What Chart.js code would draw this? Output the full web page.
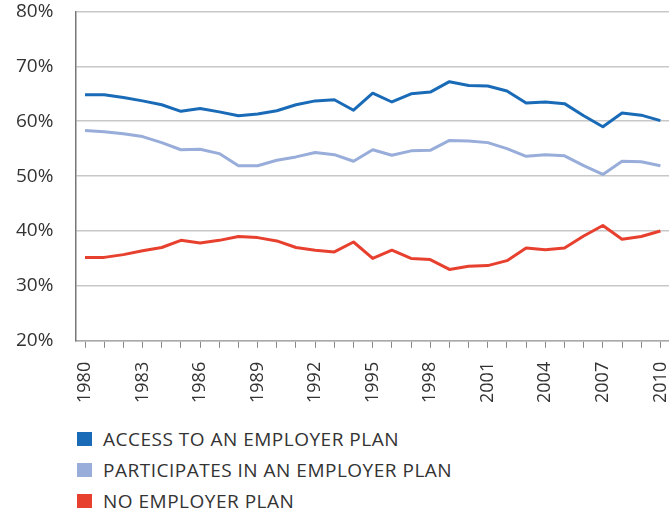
<!DOCTYPE html>
<html>
<head>
<meta charset="utf-8">
<script src="https://cdn.jsdelivr.net/npm/chart.js@4/dist/chart.umd.min.js"></script>
<style>
  html, body { margin: 0; padding: 0; background: #fff; }
  body { width: 669px; height: 513px; position: relative; overflow: hidden; font-family: "Open Sans", sans-serif; }
  /* canvas is a bit larger than the page so the plot reaches the top and right edges */
  #wrap { position: absolute; left: 0; top: -22px; width: 696px; height: 439px; }
  #legend { position: absolute; left: 77px; top: 423px; list-style: none; margin: 0; padding: 0; }
  #legend li { height: 31px; font-size: 19px; letter-spacing: 0.5px; color: #333; display: flex; align-items: center; white-space: nowrap; }
  #legend span.box { display: inline-block; width: 15px; height: 14px; margin-right: 11px; }
</style>
</head>
<body>
<div id="wrap"><canvas id="chart"></canvas></div>
<ul id="legend"></ul>
<script>
const years = [];
for (let y = 1980; y <= 2010; y++) years.push(String(y));

// share of workers, percent
const accessPlan = [64.8, 64.8, 64.3, 63.7, 63.0, 61.8, 62.3, 61.7, 61.0, 61.3, 61.9, 63.0, 63.7, 63.9,
  62.0, 65.1, 63.5, 65.0, 65.3, 67.2, 66.5, 66.4, 65.5, 63.3, 63.5, 63.2, 61.0, 59.0, 61.5, 61.1, 60.1];
const participates = [58.3, 58.1, 57.7, 57.2, 56.1, 54.8, 54.9, 54.1, 51.9, 51.9, 52.9, 53.5, 54.3, 53.9,
  52.7, 54.8, 53.8, 54.6, 54.7, 56.5, 56.4, 56.1, 55.0, 53.6, 53.9, 53.7, 51.9, 50.3, 52.7, 52.6, 51.9];
const noPlan = [35.2, 35.2, 35.7, 36.4, 37.0, 38.3, 37.8, 38.3, 39.0, 38.8, 38.2, 37.0, 36.5, 36.2,
  38.0, 35.0, 36.5, 35.0, 34.8, 33.0, 33.6, 33.7, 34.6, 36.9, 36.6, 36.9, 39.1, 41.0, 38.5, 39.0, 40.0];

const seriesNames = ['ACCESS TO AN EMPLOYER PLAN', 'PARTICIPATES IN AN EMPLOYER PLAN', 'NO EMPLOYER PLAN'];
const seriesColors = ['#1a6bb7', '#98add9', '#e8402f'];
const yTicks = [20, 30, 40, 50, 60, 70, 80];

const makeSet = (i, data) => ({
  label: seriesNames[i],
  data: data,
  borderColor: seriesColors[i],
  backgroundColor: seriesColors[i],
  borderWidth: 3,
  pointRadius: 0,
  tension: 0,
  borderJoinStyle: 'round',
  fill: false,
});

const chart = new Chart(document.getElementById('chart'), {
  type: 'line',
  data: {
    labels: years,
    datasets: [makeSet(0, accessPlan), makeSet(1, participates), makeSet(2, noPlan)],
  },
  options: {
    responsive: true,
    maintainAspectRatio: false,
    animation: false,
    layout: { padding: { left: -6, right: 0, top: 0, bottom: 0 } },
    plugins: { legend: { display: false }, tooltip: { enabled: false } },
    scales: {
      x: {
        offset: true,
        grid: { drawOnChartArea: false, drawTicks: true, tickLength: 7, color: '#888', lineWidth: 1 },
        border: { color: '#aaa', width: 1.5 },
        ticks: {
          autoSkip: false,
          minRotation: 90,
          maxRotation: 90,
          padding: 14,
          color: '#333',
          font: { family: 'Open Sans', size: 18 },
          callback: function (val, i) {
            return (Number(years[i]) - 1980) % 3 === 0 ? years[i] : '';
          },
        },
      },
      y: {
        min: yTicks[0],
        max: yTicks[yTicks.length - 1],
        afterBuildTicks: (axis) => { axis.ticks = yTicks.map(v => ({ value: v })); },
        grid: { color: '#c8c8c8', lineWidth: 1.5, drawTicks: false },
        border: { color: '#777', width: 1.5 },
        ticks: {
          padding: 22,
          color: '#333',
          font: { family: 'Open Sans', size: 19 },
          callback: v => v + '%',
        },
      },
    },
  },
});

// legend, one entry per row
const legend = document.getElementById('legend');
chart.data.datasets.forEach(ds => {
  const li = document.createElement('li');
  const box = document.createElement('span');
  box.className = 'box';
  box.style.background = ds.borderColor;
  li.appendChild(box);
  li.appendChild(document.createTextNode(ds.label));
  legend.appendChild(li);
});
</script>
</body>
</html>
